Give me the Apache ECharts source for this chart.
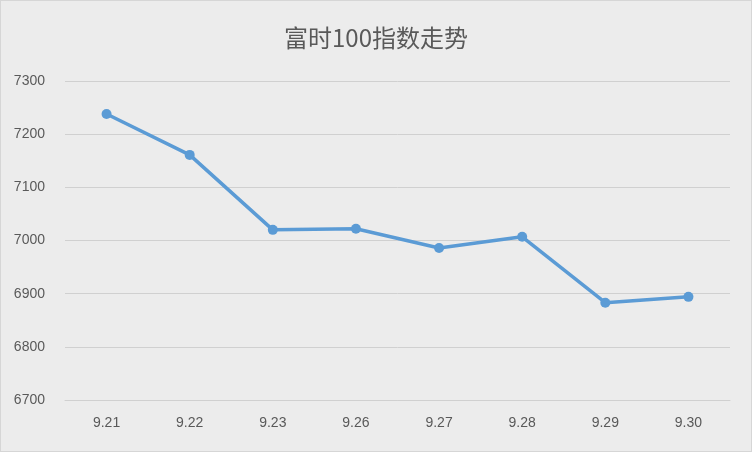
<!DOCTYPE html>
<html>
<head>
<meta charset="UTF-8" />
<script src="https://cdn.jsdelivr.net/npm/echarts@6"></script>
<style>
  body { margin: 0; padding: 0; }
  #main { width: 750px; height: 450px; border: 1px solid #d6d6d6; }
</style>
</head>
<body>
<div id="main"></div>
<script>
  const dates = ['9.21', '9.22', '9.23', '9.26', '9.27', '9.28', '9.29', '9.30'];
  const ftse = [7238, 7161, 7020, 7022, 6986, 7007, 6883, 6894];

  const chart = echarts.init(document.getElementById('main'));
  chart.setOption({
    backgroundColor: '#ececec',
    animation: false,
    title: {
      text: '富时100指数走势',
      left: 'center',
      top: 20,
      textStyle: { fontSize: 24, fontWeight: 'normal', color: '#595959', fontFamily: 'Noto Sans CJK SC' }
    },
    grid: { left: 64, right: 21, top: 80, bottom: 51 },
    xAxis: {
      type: 'category',
      data: dates,
      axisLine: { show: true, lineStyle: { color: '#d0d0d0' } },
      axisTick: { show: false },
      axisLabel: { color: '#595959', fontSize: 14, margin: 16 }
    },
    yAxis: {
      type: 'value',
      min: 6700,
      max: 7300,
      interval: 100,
      axisLine: { show: false },
      axisTick: { show: false },
      axisLabel: { color: '#595959', fontSize: 14, margin: 20, formatter: v => String(v) },
      splitLine: { lineStyle: { color: '#d0d0d0' } }
    },
    series: [{
      type: 'line',
      data: ftse,
      symbol: 'circle',
      symbolSize: 10,
      lineStyle: { color: '#5b9bd5', width: 3.5 },
      itemStyle: { color: '#5b9bd5' }
    }]
  });
</script>
</body>
</html>
